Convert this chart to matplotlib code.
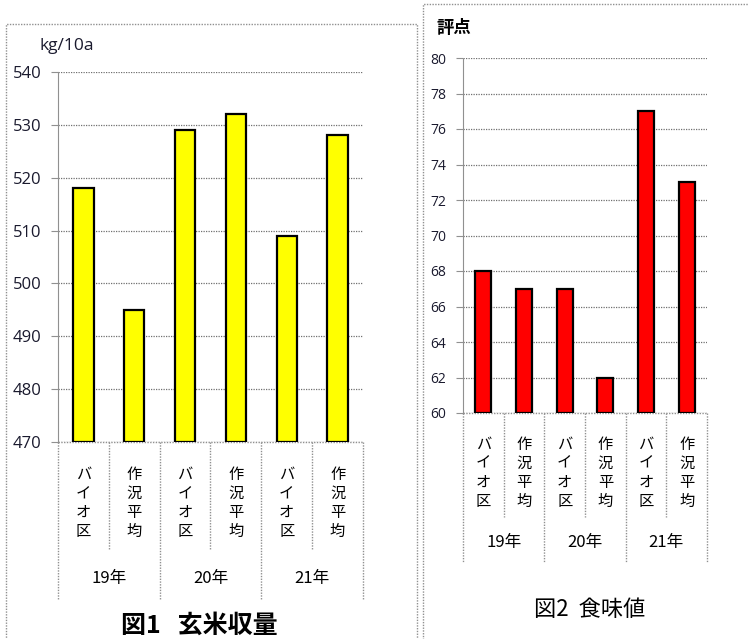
import matplotlib.pyplot as plt
from matplotlib.patches import Rectangle

plt.rcParams['font.family'] = ['Noto Sans CJK JP', 'DejaVu Sans']

# データ
plots = ['バイオ区', '作況平均', 'バイオ区', '作況平均', 'バイオ区', '作況平均']
years = ['19年', '20年', '21年']
yield_vals = [518, 495, 529, 532, 509, 528]
taste_vals = [68, 67, 67, 62, 77, 73]

W, H = 749, 639
fig = plt.figure(figsize=(W / 100, H / 100), dpi=100)


def px_axes(x0, y0, x1, y1):
    # ピクセル座標(左上原点)から軸を作る
    return fig.add_axes([x0 / W, 1 - y1 / H, (x1 - x0) / W, (y1 - y0) / H])


def frame(x0, y0, x1, y1):
    fig.patches.append(Rectangle((x0 / W, 1 - y1 / H), (x1 - x0) / W, (y1 - y0) / H,
                                 transform=fig.transFigure, fill=False,
                                 edgecolor='#909090', lw=1.0, ls=(0, (1, 1))))


def draw_panel(ax, vals, color, ylim, step, tick_fs, inner_bot, group_bot, cat_y, year_y):
    x = range(len(vals))
    ax.bar(x, [v - ylim[0] for v in vals], bottom=ylim[0], width=0.4,
           color=color, edgecolor='black', lw=1.6, zorder=3)
    ax.set_xlim(-0.5, len(vals) - 0.5)
    ax.set_ylim(*ylim)
    ticks = list(range(ylim[0], ylim[1] + 1, step))
    ax.set_yticks(ticks)
    ax.set_yticklabels([str(t) for t in ticks], fontsize=tick_fs, color='#1a1a2e',
                       family=['Open Sans', 'DejaVu Sans'])
    ax.set_xticks([])
    ax.yaxis.grid(True, color='#707070', lw=0.9, ls=(0, (1, 1)), zorder=0)
    for s in ['top', 'right', 'bottom']:
        ax.spines[s].set_visible(False)
    ax.spines['left'].set_color('#909090')
    ax.spines['left'].set_linestyle((0, (1, 1)))
    ax.tick_params(axis='y', length=5, color='#909090', pad=7)
    trans = ax.get_xaxis_transform()
    ax.plot([-0.5, len(vals) - 0.5], [0, 0], transform=trans, color='#909090',
            lw=1.0, ls=(0, (1, 1)), clip_on=False)
    for i in range(len(vals) + 1):
        xx = i - 0.5
        bot = group_bot if i % 2 == 0 else inner_bot
        ax.plot([xx, xx], [0, bot], transform=trans, color='#909090', lw=1.0,
                ls=(0, (1, 1)), clip_on=False)
    for i, lab in enumerate(plots):
        ax.text(i, cat_y, '\n'.join(lab), transform=trans, ha='center', va='center',
                fontsize=11, linespacing=1.15)
    for j, yr in enumerate(years):
        ax.text(2 * j + 0.5, year_y, yr, transform=trans, ha='center', va='center',
                fontsize=12)


# 図1 玄米収量
frame(6, 24, 417, 660)
ax1 = px_axes(58, 72, 363, 442)
draw_panel(ax1, yield_vals, '#ffff00', (470, 540), 10, 12, -0.292, -0.427, -0.165, -0.368)
fig.text(67 / W, 1 - 46 / H, 'kg/10a', fontsize=12.5, color='#1a1a2e',
         ha='center', va='center', family=['Open Sans', 'DejaVu Sans'])
fig.text(199 / W, 1 - 626 / H, '図1   玄米収量', fontsize=18, fontweight='bold',
         ha='center', va='center')

# 図2 食味値
frame(423, 4, 760, 660)
ax2 = px_axes(463, 58, 707, 413)
draw_panel(ax2, taste_vals, '#ff0000', (60, 80), 2, 10, -0.293, -0.423, -0.168, -0.366)
fig.text(454 / W, 1 - 28 / H, '評点', fontsize=12.5, fontweight='bold',
         ha='center', va='center')
fig.text(590 / W, 1 - 610 / H, '図2  食味値', fontsize=16,
         ha='center', va='center')

fig.savefig('out.png', dpi=100)
